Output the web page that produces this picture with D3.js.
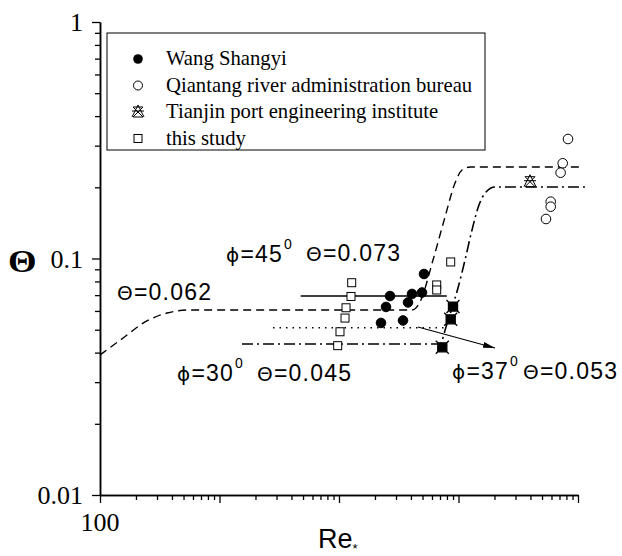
<!DOCTYPE html>
<html>
<head>
<meta charset="utf-8">
<script src="https://cdn.jsdelivr.net/npm/d3@7"></script>
<style>
  body { margin: 0; background: #fff; }
  svg { display: block; }
</style>
</head>
<body>
<div id="chart"></div>
<script>
// Data (Re* , Theta)
const wangRe = [26720, 24740, 22460, 34320, 37800, 40820, 49500, 51440];
const wangTheta = [0.0694, 0.0624, 0.0534, 0.0547, 0.0652, 0.0708, 0.0718, 0.0860];

const qiantangRe = [824700, 744700, 715100, 590800, 590800, 539700];
const qiantangTheta = [0.3201, 0.2527, 0.2306, 0.1739, 0.1656, 0.1469];

const tianjinRe = [396600];
const tianjinTheta = [0.2112];
// overlapping Tianjin markers (appear as dark clusters)
const tianjinClusterRe = [89950, 86050, 73170];
const tianjinClusterTheta = [0.0626, 0.0553, 0.0421];

const studyRe = [12770, 12600, 11450, 11230, 10190, 9752, 86050, 65700, 65700];
const studyTheta = [0.0790, 0.0691, 0.0619, 0.0560, 0.0490, 0.0428, 0.0967, 0.0773, 0.0736];

// curves
const dashedRe = [100, 156, 238, 364, 566, 40800, 47600, 61200, 77100, 93500, 107000, 125000, 1040000];
const dashedTheta = [0.0391, 0.0461, 0.0539, 0.0588, 0.0606, 0.0606, 0.0655, 0.0986, 0.1498, 0.2085, 0.2367, 0.2437, 0.2437];

const dashDotRe = [1543, 70000, 78600, 88200, 99000, 113400, 129700, 148400, 169900, 202000, 1189000];
const dashDotTheta = [0.0435, 0.0435, 0.0513, 0.0618, 0.0750, 0.0986, 0.1320, 0.1684, 0.1911, 0.2006, 0.2006];

const solidRe = [4780, 79700];
const solidTheta = [0.0694, 0.0694];

const dottedRe = [2804, 80100];
const dottedTheta = [0.051, 0.051];

const arrowRe = [45800, 202000];
const arrowTheta = [0.0513, 0.0418];

const legendLabels = ["Wang Shangyi", "Qiantang river administration bureau",
  "Tianjin port engineering institute", "this study"];

const xTickLabels = [100];
const yTickLabels = [0.01, 0.1, 1];

const svgWidth = 622, svgHeight = 556;
const svg = d3.select('#chart').append('svg')
  .attr('width', svgWidth)
  .attr('height', svgHeight);

const x = d3.scaleLog().domain([100, 1e6]).range([100, 578]);
const y = d3.scaleLog().domain([0.01, 1]).range([495, 22]);

const zip = (a, b) => a.map((v, i) => [v, b[i]]);

// minor tick positions for each decade
const xMinor = [], yMinor = [];
for (let d = 100; d < 1e6; d *= 10) for (let k = 2; k <= 9; k++) xMinor.push(d * k);
for (let d = 0.01; d < 1; d *= 10) for (let k = 2; k <= 9; k++) yMinor.push(+(d * k).toPrecision(3));

// Axes
function styleAxis(g) {
  g.select('.domain').attr('stroke', '#000').attr('stroke-width', 1.5);
  g.selectAll('.tick line').attr('stroke', '#000').attr('stroke-width', 1.3);
}

svg.append('g')
  .attr('transform', 'translate(0,495)')
  .call(d3.axisBottom(x).tickValues(xMinor).tickSize(5).tickFormat('').tickSizeOuter(0))
  .call(styleAxis);
svg.append('g')
  .attr('transform', 'translate(0,495)')
  .call(d3.axisBottom(x).tickValues([100, 1000, 1e4, 1e5, 1e6]).tickSize(8).tickFormat('').tickSizeOuter(0))
  .call(styleAxis);

svg.append('g')
  .attr('transform', 'translate(100,0)')
  .call(d3.axisLeft(y).tickValues(yMinor).tickSize(5).tickFormat('').tickSizeOuter(0))
  .call(styleAxis);
svg.append('g')
  .attr('transform', 'translate(100,0)')
  .call(d3.axisLeft(y).tickValues(yTickLabels).tickSize(8).tickFormat('').tickSizeOuter(0))
  .call(styleAxis);

// tick labels
svg.selectAll('.ylab').data(yTickLabels).enter().append('text')
  .attr('x', 83).attr('y', d => y(d) + 9)
  .attr('text-anchor', 'end')
  .style('font', '26px "Liberation Serif", serif')
  .text(d => d);

svg.selectAll('.xlab').data(xTickLabels).enter().append('text')
  .attr('x', d => x(d)).attr('y', 531)
  .attr('text-anchor', 'middle')
  .style('font', '26px "Liberation Serif", serif')
  .text(d => d);

// axis titles
svg.append('text')
  .attr('x', 8).attr('y', 272)
  .attr('transform', 'translate(8,272) scale(1.15,1) translate(-8,-272)')
  .style('font', 'bold 32px "Liberation Serif", serif')
  .text('Θ');

const reLabel = svg.append('text')
  .attr('x', 318).attr('y', 548)
  .style('font', '27px "Liberation Sans", Arial, sans-serif');
reLabel.append('tspan').text('Re');
reLabel.append('tspan').attr('font-size', 13).attr('dy', 5).text('*');

// Lines
const line = d3.line().x(d => x(d[0])).y(d => y(d[1]));
const curve = d3.line().x(d => x(d[0])).y(d => y(d[1])).curve(d3.curveMonotoneX);

const plot = svg.append('g').attr('fill', 'none').attr('stroke', '#000');

plot.append('path').attr('d', curve(zip(dashedRe, dashedTheta)))
  .attr('stroke-width', 1.4).attr('stroke-dasharray', '8,5');
plot.append('path').attr('d', curve(zip(dashDotRe, dashDotTheta)))
  .attr('stroke-width', 1.6).attr('stroke-dasharray', '11,4,2,4');
plot.append('path').attr('d', line(zip(solidRe, solidTheta)))
  .attr('stroke-width', 1.5);
plot.append('path').attr('d', line(zip(dottedRe, dottedTheta)))
  .attr('stroke-width', 1.5).attr('stroke-dasharray', '1.5,5');

// arrow
svg.append('defs').append('marker')
  .attr('id', 'arrow').attr('viewBox', '0 0 12 8')
  .attr('refX', 12).attr('refY', 4)
  .attr('markerWidth', 12).attr('markerHeight', 8)
  .attr('markerUnits', 'userSpaceOnUse')
  .attr('orient', 'auto')
  .append('path').attr('d', 'M0,1 L12,4 L0,7 Z').attr('fill', '#000');

plot.append('path').attr('d', line(zip(arrowRe, arrowTheta)))
  .attr('stroke-width', 1.1).attr('marker-end', 'url(#arrow)');

// Markers
const tianjinPath = 'M-5,-5 L5,-5 L-5,5 L5,5 Z M0,-7 L-6,5 M0,-7 L6,5 M-6,-1 L6,-1';
const clusterPath = 'M-6.5,-6.5 L6.5,6.5 M6.5,-6.5 L-6.5,6.5 M-4.5,-4.5 L4.5,-4.5 L4.5,4.5 L-4.5,4.5 Z';

function drawCircles(re, th, fill) {
  svg.append('g').selectAll('circle').data(zip(re, th)).enter().append('circle')
    .attr('cx', d => x(d[0])).attr('cy', d => y(d[1])).attr('r', 4.8)
    .attr('fill', fill).attr('stroke', '#000').attr('stroke-width', 1);
}
drawCircles(wangRe, wangTheta, '#000');
drawCircles(qiantangRe, qiantangTheta, '#fff');

svg.append('g').selectAll('rect').data(zip(studyRe, studyTheta)).enter().append('rect')
  .attr('x', d => x(d[0]) - 4).attr('y', d => y(d[1]) - 4)
  .attr('width', 8).attr('height', 8)
  .attr('fill', '#fff').attr('stroke', '#000').attr('stroke-width', 1);

svg.append('g').selectAll('path').data(zip(tianjinRe, tianjinTheta)).enter().append('path')
  .attr('transform', d => 'translate(' + x(d[0]) + ',' + y(d[1]) + ')')
  .attr('d', tianjinPath).attr('fill', 'none').attr('stroke', '#000').attr('stroke-width', 1);

svg.append('g').selectAll('path').data(zip(tianjinClusterRe, tianjinClusterTheta)).enter().append('path')
  .attr('transform', d => 'translate(' + x(d[0]) + ',' + y(d[1]) + ')')
  .attr('d', clusterPath).attr('fill', '#000').attr('stroke', '#000').attr('stroke-width', 1.4);

// Annotations
const sans = '"Liberation Sans", Arial, sans-serif';
function annot(px, py, greek, rest, sup) {
  const t = svg.append('text').attr('x', px).attr('y', py)
    .style('font-family', sans).style('font-size', '23px')
    .style('letter-spacing', '1.2px');
  t.append('tspan').style('font-family', '"DejaVu Sans", sans-serif').style('font-size', '20px').text(greek);
  t.append('tspan').text(rest);
  if (sup) t.append('tspan').attr('font-size', 14).attr('dy', -13).attr('dx', 1).text(sup);
  return t;
}
annot(226, 262, 'ϕ', '=45', '0');
annot(306, 261, 'Θ', '=0.073');
annot(117, 300, 'Θ', '=0.062');
annot(177, 381, 'ϕ', '=30', '0');
annot(257, 381, 'Θ', '=0.045');
annot(452, 379, 'ϕ', '=37', '0');
annot(523, 379, 'Θ', '=0.053');

// Legend
const legend = svg.append('g');
legend.append('rect')
  .attr('x', 107).attr('y', 33).attr('width', 378).attr('height', 117)
  .attr('fill', '#fff').attr('stroke', '#000').attr('stroke-width', 1);

const rows = legend.selectAll('.row').data(legendLabels).enter().append('g')
  .attr('transform', (d, i) => 'translate(0,' + (59 + i * 26.5) + ')');
rows.append('text')
  .attr('x', 166).attr('y', 6)
  .style('font', '20.7px "Liberation Serif", serif')
  .text(d => d);

rows.filter((d, i) => i === 0).append('circle')
  .attr('cx', 138).attr('r', 4.8).attr('fill', '#000');
rows.filter((d, i) => i === 1).append('circle')
  .attr('cx', 138).attr('r', 4.5).attr('fill', '#fff').attr('stroke', '#000');
rows.filter((d, i) => i === 2).append('path')
  .attr('transform', 'translate(138,0)')
  .attr('d', tianjinPath).attr('fill', 'none').attr('stroke', '#000');
rows.filter((d, i) => i === 3).append('rect')
  .attr('x', 134).attr('y', -4).attr('width', 8).attr('height', 8)
  .attr('fill', '#fff').attr('stroke', '#000');
</script>
</body>
</html>
